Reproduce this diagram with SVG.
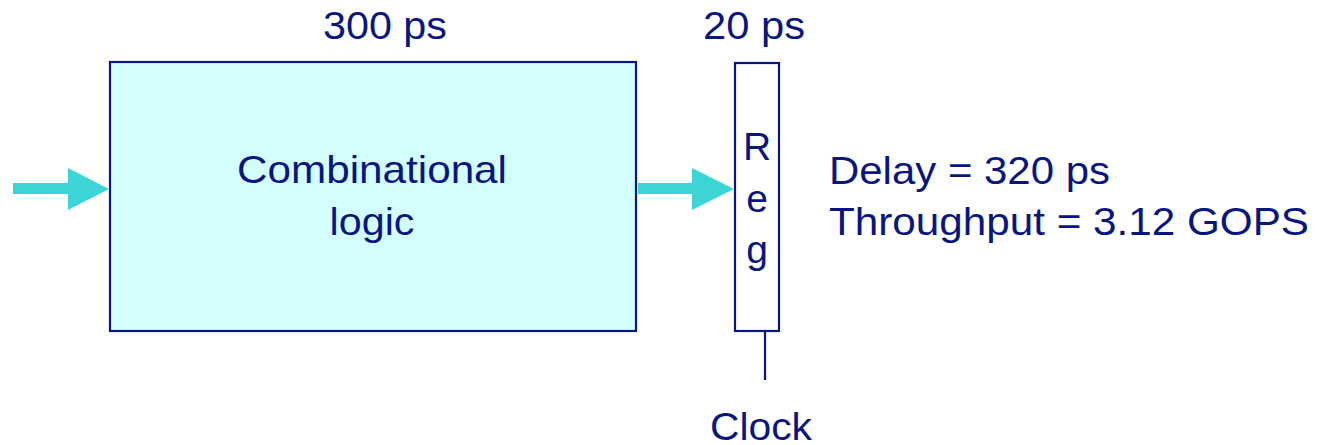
<svg xmlns="http://www.w3.org/2000/svg" width="1317" height="445" viewBox="0 0 1317 445">
<style>
.t{font-family:"Liberation Sans",Arial,sans-serif;font-size:39px;fill:#0A1680;}
.box{stroke:#0A1680;stroke-width:2.2;}
.arr{fill:#3CD5D5;}
</style>
<rect width="1317" height="445" fill="#ffffff"/>
<g id="connectors">
<path class="arr" d="M13,183 H68 V168 L109,189 L68,210 V194 H13 Z"/>
<path class="arr" d="M638,183 H692 V168 L734,189 L692,210 V194 H638 Z"/>
<line x1="765" y1="332" x2="765" y2="380" stroke="#0A1680" stroke-width="2.2"/>
</g>
<g id="comb">
<rect class="box" x="110" y="62" width="526" height="269" fill="#D4FFFF"/>
<text class="t" x="372" y="183" text-anchor="middle" textLength="270" lengthAdjust="spacingAndGlyphs">Combinational</text>
<text class="t" x="372" y="235" text-anchor="middle" textLength="85" lengthAdjust="spacingAndGlyphs">logic</text>
</g>
<g id="reg">
<rect class="box" x="735" y="63" width="44" height="268" fill="#ffffff"/>
<text class="t" x="757" y="160" text-anchor="middle">R</text>
<text class="t" x="757" y="212" text-anchor="middle">e</text>
<text class="t" x="757" y="263" text-anchor="middle">g</text>
</g>
<g id="labels">
<text class="t" x="385" y="39" text-anchor="middle" textLength="124" lengthAdjust="spacingAndGlyphs">300 ps</text>
<text class="t" x="754" y="39" text-anchor="middle" textLength="102" lengthAdjust="spacingAndGlyphs">20 ps</text>
<text class="t" x="761" y="440" text-anchor="middle" textLength="102" lengthAdjust="spacingAndGlyphs">Clock</text>
<text class="t" x="829" y="184" textLength="281" lengthAdjust="spacingAndGlyphs">Delay = 320 ps</text>
<text class="t" x="829" y="235" textLength="480" lengthAdjust="spacingAndGlyphs">Throughput = 3.12 GOPS</text>
</g>
</svg>
